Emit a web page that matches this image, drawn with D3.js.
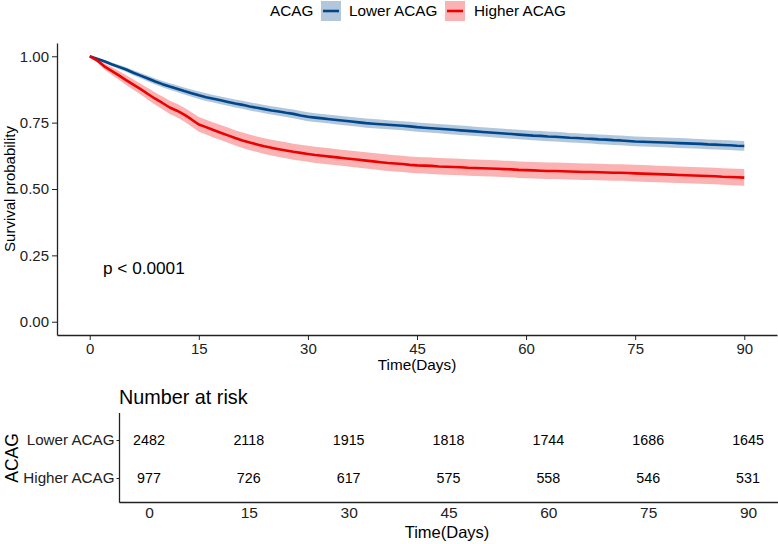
<!DOCTYPE html>
<html>
<head>
<meta charset="utf-8">
<script src="https://cdn.jsdelivr.net/npm/d3@7"></script>
<style>
  body { margin: 0; background: #fff; }
  svg { font-family: "Liberation Sans", Arial, sans-serif; }
  .axis path, .axis line { stroke: #222; }
  .axis text { fill: #222; }
</style>
</head>
<body>
<div id="chart"></div>
<script>
'use strict';

var groups = ['Lower ACAG', 'Higher ACAG'];
var colors = ['#00468B', '#ED0000'];
var days = d3.range(0, 91);

// survival estimates, one per day 0..90
var survLower = [
    1.000, 0.991, 0.981, 0.970, 0.960, 0.950, 0.938, 0.927, 0.916, 0.905,
    0.895, 0.886, 0.878, 0.869, 0.861, 0.853, 0.846, 0.840, 0.834, 0.828,
    0.822, 0.817, 0.811, 0.806, 0.801, 0.796, 0.792, 0.787, 0.783, 0.777,
    0.772, 0.769, 0.766, 0.763, 0.760, 0.757, 0.754, 0.751, 0.748, 0.746,
    0.744, 0.742, 0.740, 0.738, 0.736, 0.733, 0.731, 0.729, 0.727, 0.725,
    0.723, 0.721, 0.719, 0.717, 0.715, 0.713, 0.711, 0.709, 0.707, 0.705,
    0.703, 0.701, 0.700, 0.698, 0.697, 0.695, 0.693, 0.692, 0.690, 0.689,
    0.687, 0.686, 0.684, 0.683, 0.681, 0.679, 0.678, 0.677, 0.676, 0.675,
    0.674, 0.673, 0.672, 0.671, 0.670, 0.668, 0.667, 0.666, 0.665, 0.663,
    0.662
];
var survHigher = [
    1.000, 0.985, 0.962, 0.945, 0.928, 0.910, 0.893, 0.876, 0.858, 0.840,
    0.824, 0.807, 0.795, 0.780, 0.762, 0.743, 0.733, 0.722, 0.712, 0.702,
    0.692, 0.683, 0.675, 0.668, 0.661, 0.655, 0.650, 0.645, 0.640, 0.636,
    0.632, 0.628, 0.625, 0.622, 0.619, 0.616, 0.613, 0.610, 0.607, 0.604,
    0.601, 0.598, 0.596, 0.594, 0.591, 0.589, 0.588, 0.587, 0.585, 0.584,
    0.583, 0.582, 0.580, 0.579, 0.578, 0.577, 0.576, 0.575, 0.574, 0.572,
    0.571, 0.570, 0.569, 0.568, 0.568, 0.567, 0.566, 0.565, 0.564, 0.564,
    0.563, 0.562, 0.561, 0.561, 0.560, 0.559, 0.558, 0.557, 0.556, 0.555,
    0.554, 0.553, 0.552, 0.551, 0.550, 0.549, 0.548, 0.546, 0.545, 0.544,
    0.543
];

var riskTimes = [0, 15, 30, 45, 60, 75, 90];
var riskLower = [2482, 2118, 1915, 1818, 1744, 1686, 1645];
var riskHigher = [977, 726, 617, 575, 558, 546, 531];
var yTicks = [0, 0.25, 0.5, 0.75, 1];
var pValueText = 'p < 0.0001';

var width = 778, height = 544;

var svg = d3.select('#chart').append('svg')
    .attr('width', width)
    .attr('height', height);

// ---- main plot ----
var x = d3.scaleLinear().domain([-4.5, 94.5]).range([57, 777]);
var y = d3.scaleLinear().domain([-0.05, 1.05]).range([335, 43]);

var series = [
    {name: groups[0], color: colors[0], surv: survLower, n0: riskLower[0]},
    {name: groups[1], color: colors[1], surv: survHigher, n0: riskHigher[0]}
];

// log-type confidence interval (Greenwood, no censoring)
function band(s) {
    return days.map(function (d, i) {
        var S = s.surv[i];
        var se = Math.sqrt((1 - S) / (s.n0 * S));
        return {t: d, s: S, lo: S * Math.exp(-1.96 * se), hi: Math.min(1, S * Math.exp(1.96 * se))};
    });
}

// event times are dense, so the steps read almost as a continuous line
var area = d3.area()
    .x(function (d) { return x(d.t); })
    .y0(function (d) { return y(d.lo); })
    .y1(function (d) { return y(d.hi); });

var line = d3.line()
    .x(function (d) { return x(d.t); })
    .y(function (d) { return y(d.s); });

series.forEach(function (s) {
    svg.append('path')
        .attr('d', area(band(s)))
        .attr('fill', s.color)
        .attr('fill-opacity', 0.3);
});
series.forEach(function (s) {
    svg.append('path')
        .attr('d', line(band(s)))
        .attr('fill', 'none')
        .attr('stroke', s.color)
        .attr('stroke-width', 2.6)
        .attr('stroke-linejoin', 'round');
});

var xAxis = svg.append('g')
    .attr('class', 'axis')
    .attr('transform', 'translate(0,335)')
    .call(d3.axisBottom(x).tickValues(riskTimes).tickSize(5).tickSizeOuter(0).tickPadding(3));
xAxis.selectAll('text').style('font-size', '15px');
xAxis.select('.domain').attr('stroke-width', 1.3);

var yAxis = svg.append('g')
    .attr('class', 'axis')
    .attr('transform', 'translate(57,0)')
    .call(d3.axisLeft(y).tickValues(yTicks).tickFormat(d3.format('.2f')).tickSize(5).tickSizeOuter(0).tickPadding(3));
yAxis.selectAll('text').style('font-size', '15px');
yAxis.select('.domain').attr('stroke-width', 1.3);

svg.append('text')
    .attr('x', 417).attr('y', 370)
    .attr('text-anchor', 'middle')
    .style('font-size', '15.3px')
    .text('Time(Days)');

svg.append('text')
    .attr('transform', 'translate(15,189) rotate(-90)')
    .attr('text-anchor', 'middle')
    .style('font-size', '15px')
    .text('Survival probability');

svg.append('text')
    .attr('x', 103).attr('y', 274)
    .style('font-size', '17.2px')
    .text(pValueText);

// ---- legend ----
var legend = svg.append('g');
legend.append('text')
    .attr('x', 270).attr('y', 16)
    .style('font-size', '15.3px')
    .text('ACAG');
var keyX = [321, 445];
var labX = [349, 474];
series.forEach(function (s, i) {
    legend.append('rect')
        .attr('x', keyX[i]).attr('y', 1)
        .attr('width', 20).attr('height', 20)
        .attr('fill', s.color).attr('fill-opacity', 0.3);
    legend.append('line')
        .attr('x1', keyX[i] + 2).attr('x2', keyX[i] + 18)
        .attr('y1', 11).attr('y2', 11)
        .attr('stroke', s.color).attr('stroke-width', 2.6);
    legend.append('text')
        .attr('x', labX[i]).attr('y', 16)
        .style('font-size', '15.3px')
        .text(s.name);
});

// ---- risk table ----
var rx = d3.scaleLinear().domain([-4.5, 94.5]).range([119, 778]);
var ry = d3.scalePoint().domain(groups).range([440, 478]);

svg.append('text')
    .attr('x', 119).attr('y', 404)
    .style('font-size', '19.8px')
    .text('Number at risk');

var riskRows = [riskLower, riskHigher];
riskRows.forEach(function (row, i) {
    svg.append('g').selectAll('text')
        .data(row)
        .enter().append('text')
        .attr('x', function (d, j) { return rx(riskTimes[j]); })
        .attr('y', ry(groups[i]))
        .attr('dy', '0.36em')
        .attr('text-anchor', 'middle')
        .style('font-size', '14.3px')
        .text(function (d) { return d; });
});

var rxAxis = svg.append('g')
    .attr('class', 'axis')
    .attr('transform', 'translate(0,502)')
    .call(d3.axisBottom(rx).tickValues(riskTimes).tickSize(0).tickSizeOuter(0).tickPadding(5));
rxAxis.selectAll('text').style('font-size', '15.5px');
rxAxis.select('.domain').attr('stroke-width', 1.3);

var ryAxis = svg.append('g')
    .attr('class', 'axis')
    .attr('transform', 'translate(119.5,0)')
    .call(d3.axisLeft(ry).tickSize(3).tickSizeOuter(0).tickPadding(2));
ryAxis.select('.domain').remove();
ryAxis.selectAll('text').style('font-size', '15.2px');
svg.append('line')
    .attr('x1', 119.5).attr('x2', 119.5)
    .attr('y1', 413).attr('y2', 502.6)
    .attr('stroke', '#222').attr('stroke-width', 1.3);

svg.append('text')
    .attr('x', 447).attr('y', 538)
    .attr('text-anchor', 'middle')
    .style('font-size', '16.5px')
    .text('Time(Days)');

svg.append('text')
    .attr('transform', 'translate(18,458) rotate(-90)')
    .attr('text-anchor', 'middle')
    .style('font-size', '17.5px')
    .text('ACAG');
</script>
</body>
</html>
